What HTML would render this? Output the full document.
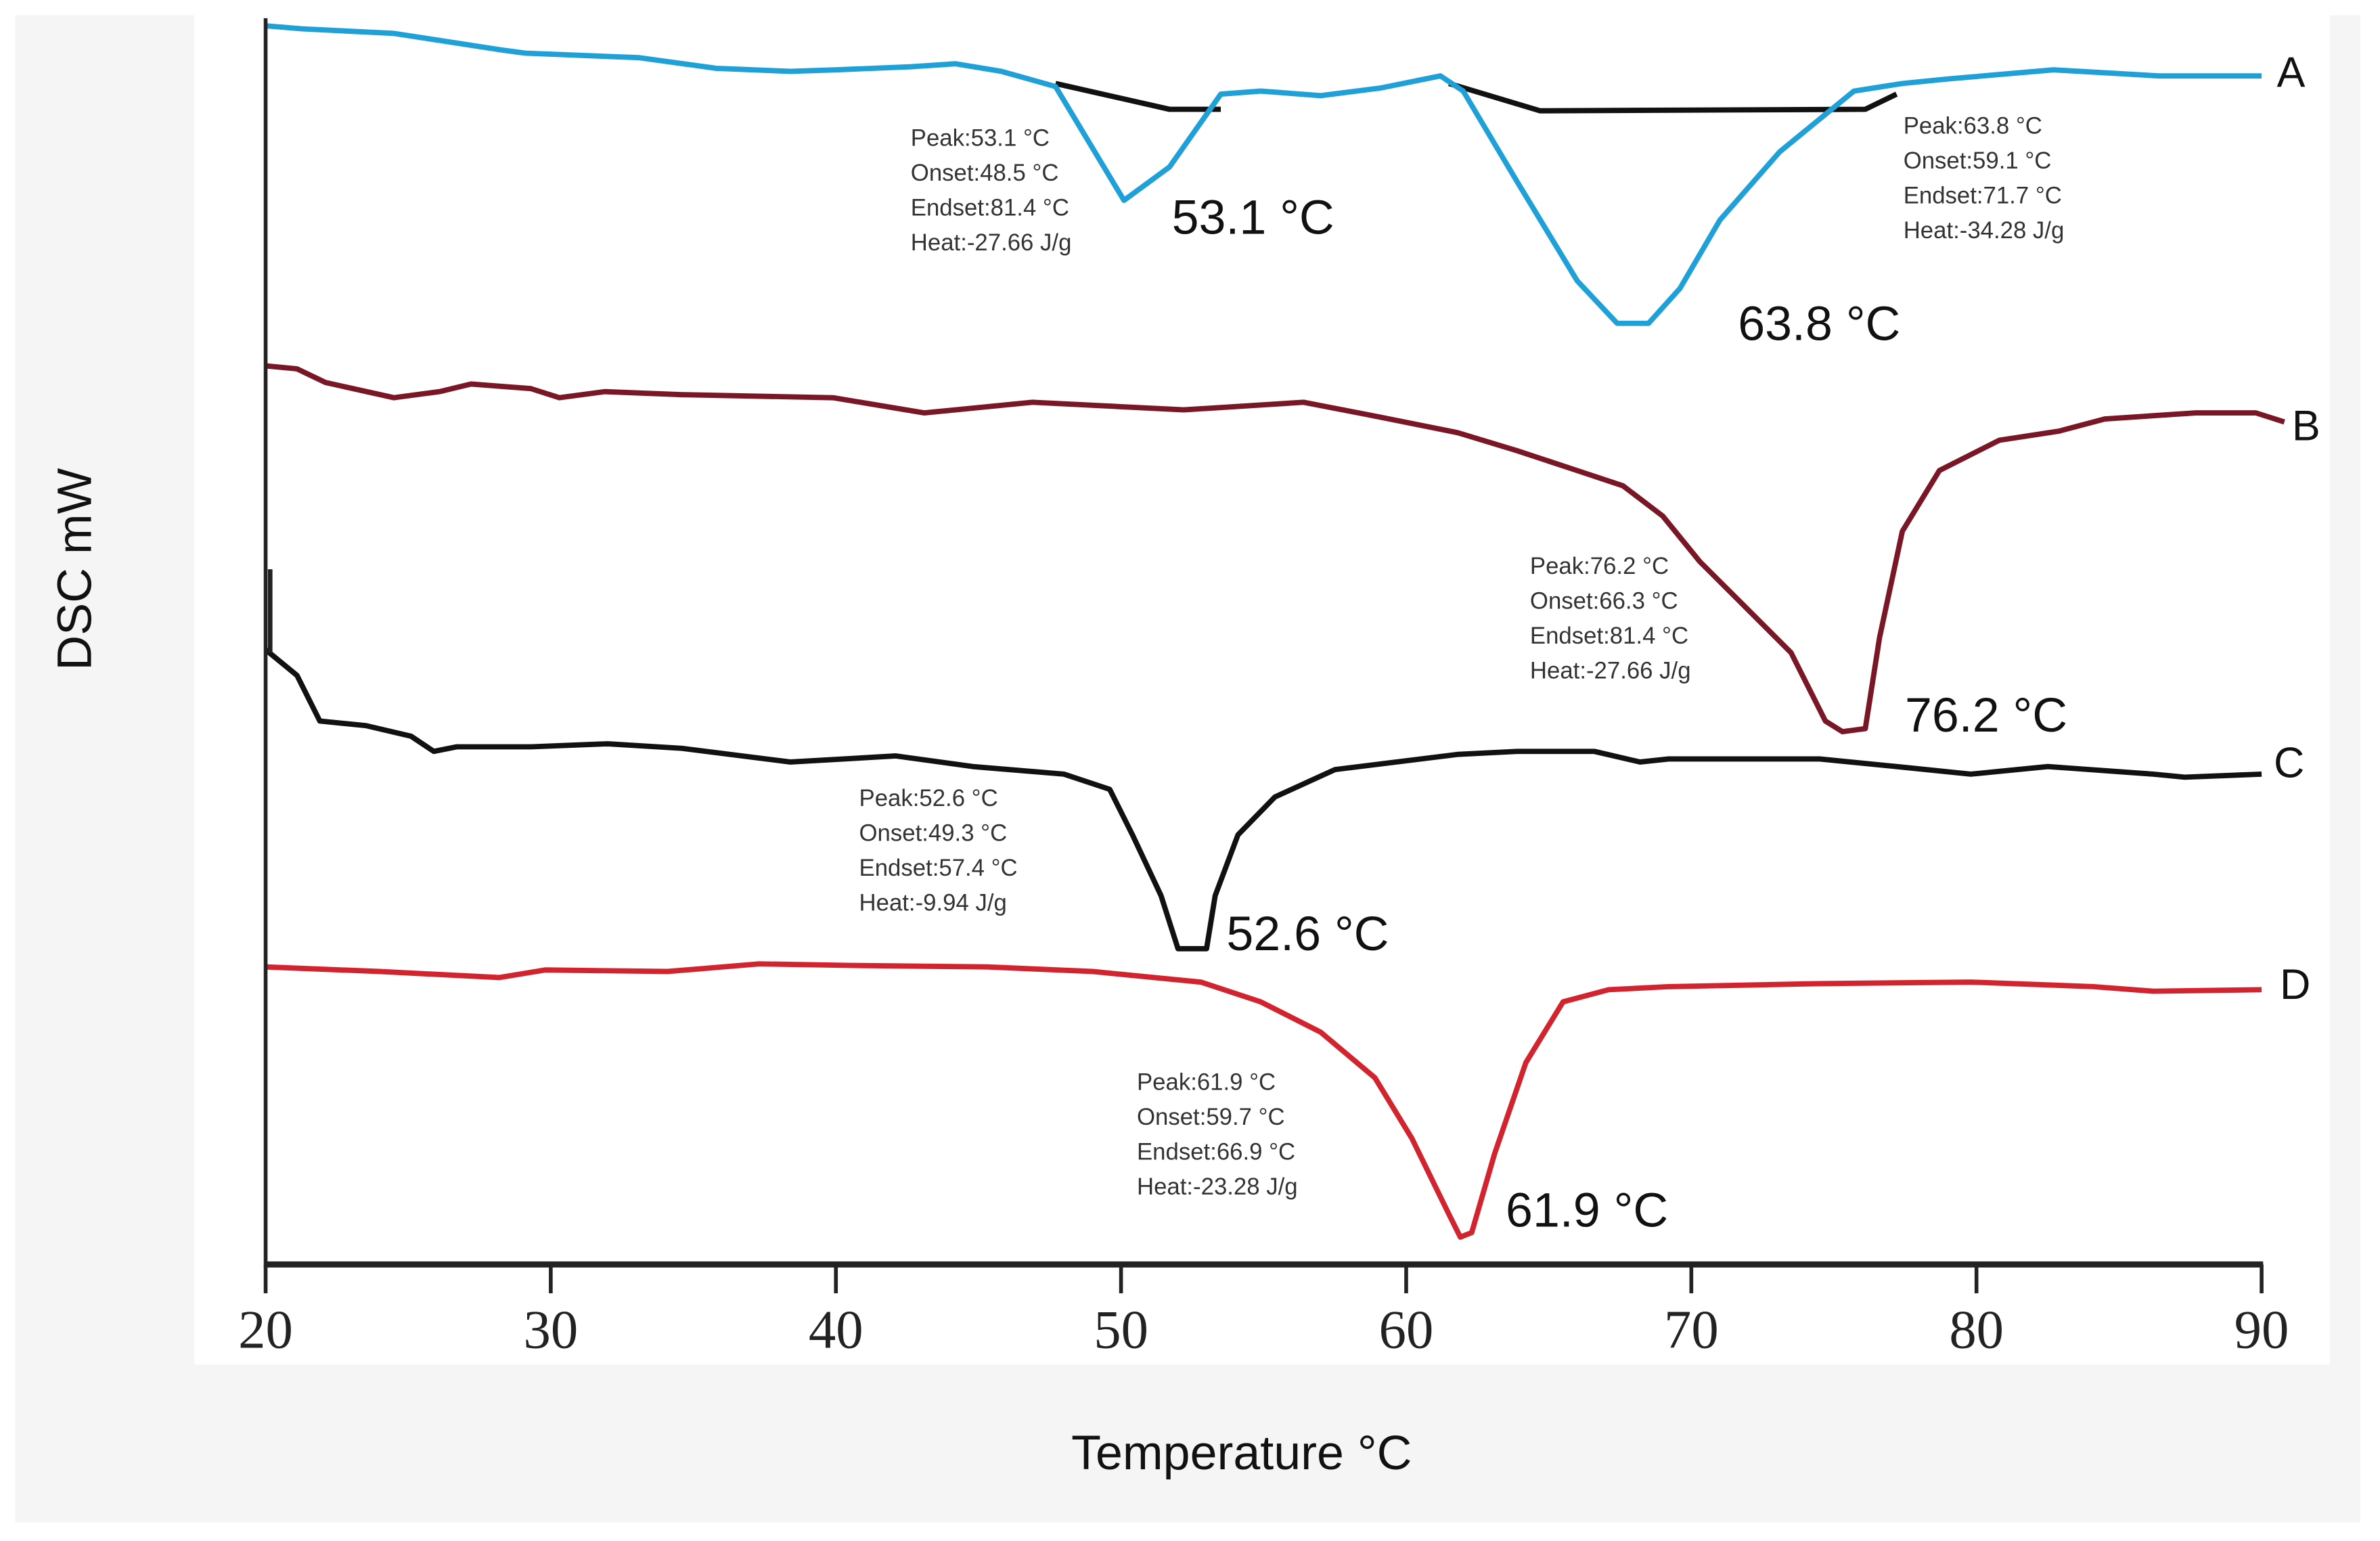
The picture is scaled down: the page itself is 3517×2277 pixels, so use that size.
<!DOCTYPE html>
<html><head><meta charset="utf-8">
<style>
html,body{margin:0;padding:0;background:#fff;width:3517px;height:2277px;overflow:hidden}
svg{display:block}
.ann{font-family:"Liberation Sans",sans-serif;font-size:15.5px;fill:#333}
.big{font-family:"Liberation Sans",sans-serif;font-size:32px;fill:#111}
.lbl{font-family:"Liberation Sans",sans-serif;font-size:28px;fill:#111}
.tick{font-family:"Liberation Serif",serif;font-size:36px;fill:#222}
</style></head>
<body>
<svg id="chart" width="3517" height="2277" viewBox="0 0 1568 1015.2" preserveAspectRatio="none" xmlns="http://www.w3.org/2000/svg">
<rect x="10" y="10" width="1545" height="993" fill="#f5f5f5"/>
<rect x="128" y="0" width="1407" height="899" fill="#fff"/>
<g id="series"></g>
<g id="axes"></g>
<text class="lbl" x="1500" y="57">A</text>
<text class="lbl" x="1510" y="290">B</text>
<text class="lbl" x="1498" y="512">C</text>
<text class="lbl" x="1502" y="658">D</text>
<g class="ann"><text x="600" y="96">Peak:53.1 °C</text><text x="600" y="119">Onset:48.5 °C</text><text x="600" y="142">Endset:81.4 °C</text><text x="600" y="165">Heat:-27.66 J/g</text></g>
<g class="ann"><text x="1254" y="88">Peak:63.8 °C</text><text x="1254" y="111">Onset:59.1 °C</text><text x="1254" y="134">Endset:71.7 °C</text><text x="1254" y="157">Heat:-34.28 J/g</text></g>
<g class="ann"><text x="1008" y="378">Peak:76.2 °C</text><text x="1008" y="401">Onset:66.3 °C</text><text x="1008" y="424">Endset:81.4 °C</text><text x="1008" y="447">Heat:-27.66 J/g</text></g>
<g class="ann"><text x="566" y="531">Peak:52.6 °C</text><text x="566" y="554">Onset:49.3 °C</text><text x="566" y="577">Endset:57.4 °C</text><text x="566" y="600">Heat:-9.94 J/g</text></g>
<g class="ann"><text x="749" y="718">Peak:61.9 °C</text><text x="749" y="741">Onset:59.7 °C</text><text x="749" y="764">Endset:66.9 °C</text><text x="749" y="787">Heat:-23.28 J/g</text></g>
<text class="big" x="772" y="154">53.1 °C</text>
<text class="big" x="1145" y="224">63.8 °C</text>
<text class="big" x="1255" y="482">76.2 °C</text>
<text class="big" x="808" y="626">52.6 °C</text>
<text class="big" x="992" y="808">61.9 °C</text>
<text class="big" x="60" y="375" transform="rotate(-90 60 375)" text-anchor="middle" font-size="30">DSC mW</text>
<text class="big" x="818" y="968" text-anchor="middle">Temperature °C</text>
</svg>
<script>
// temperatures (°C) and signal values (arbitrary DSC units; y = 833 - 10*v)
const tA=[20,21.3,24.5,28.3,29.1,33.1,35.8,38.4,40,42.6,44.2,45.8,47.7,50.1,51.7,53.5,54.9,57,59.1,61.2,62,63.9,66,67.4,68.5,69.6,71,73.1,75.7,77.4,79,82.7,86.4,90];
const vA=[81.6,81.4,81.1,80,79.8,79.5,78.8,78.6,78.7,78.9,79.1,78.6,77.6,70.1,72.3,77.1,77.3,77,77.5,78.3,77.3,71.3,64.8,62,62,64.3,68.8,73.3,77.3,77.8,78.1,78.7,78.3,78.3];
const tAb1=[47.7,51.7,53.5];
const vAb1=[77.8,76.1,76.1];
const tAb2=[61.5,64.7,76.1,77.2];
const vAb2=[77.8,76,76.1,77.1];
const tB=[20,21.1,22.1,24.5,26.1,27.2,29.3,30.3,31.9,34.6,39.9,43.1,46.9,52.2,56.4,58.6,61.8,63.9,66,67.6,69,70.3,71.9,73.5,74.7,75.3,76.1,76.6,77.4,78.7,80.8,82.9,84.5,87.7,89.8,90.8];
const vB=[59.2,59,58.1,57.1,57.5,58,57.7,57.1,57.5,57.3,57.1,56.1,56.8,56.3,56.8,56,54.8,53.6,52.3,51.3,49.3,46.3,43.3,40.3,35.8,35.1,35.3,41.3,48.3,52.3,54.3,54.9,55.7,56.1,56.1,55.5];
const tC=[20,21.1,21.9,23.5,25.1,25.9,26.7,29.3,32,34.6,38.4,42.1,44.8,48,49.6,50.4,51.4,52,53,53.3,54.1,55.4,57.5,61.8,63.9,66.6,68.2,69.2,74.5,77.2,79.8,82.5,86.2,87.3,90];
const vC=[40.5,38.8,35.8,35.5,34.8,33.8,34.1,34.1,34.3,34,33.1,33.5,32.8,32.3,31.3,28.3,24.3,20.8,20.8,24.3,28.3,30.8,32.6,33.6,33.8,33.8,33.1,33.3,33.3,32.8,32.3,32.8,32.3,32.1,32.3];
const tD=[20,24,28.2,29.8,34.1,37.3,40.5,45.3,49,52.8,54.9,57,58.9,60.2,61.5,61.9,62.3,63.1,64.2,65.5,67.1,69.2,74.5,79.8,84.1,86.2,90];
const vD=[19.6,19.3,18.9,19.4,19.3,19.8,19.7,19.6,19.3,18.6,17.3,15.3,12.3,8.3,3.3,1.8,2.1,7.3,13.3,17.3,18.1,18.3,18.5,18.6,18.3,18,18.1];
const xTicks=[20,30,40,50,60,70,80,90];
const tickLabels=["20","30","40","50","60","70","80","90"];

const NS="http://www.w3.org/2000/svg";
function xs(t){return 175+(t-20)*(1315/70);}
function ys(v){return 833-10*v;}
const S=document.getElementById('series'), A=document.getElementById('axes');
function line(ts,vs,color,w,name){
  const p=document.createElementNS(NS,'polyline');
  p.setAttribute('points',ts.map((t,i)=>xs(t).toFixed(1)+','+ys(vs[i]).toFixed(1)).join(' '));
  p.setAttribute('fill','none');p.setAttribute('stroke',color);p.setAttribute('stroke-width',w);
  p.setAttribute('stroke-linejoin','round');
  
  
  S.appendChild(p);
}
line(tAb1,vAb1,'#111',3.5,'baseline-a1');
line(tAb2,vAb2,'#111',3.5,'baseline-a2');
line(tA,vA,'#1fa0d6',3.5,'series-a');
line(tB,vB,'#7a1726',3.5,'series-b');
line(tC,vC,'#111',3.5,'series-c');
line(tD,vD,'#d1242e',3.5,'series-d');
// axes
function seg(x1,y1,x2,y2,w,name){
  const l=document.createElementNS(NS,'line');
  l.setAttribute('x1',x1);l.setAttribute('y1',y1);l.setAttribute('x2',x2);l.setAttribute('y2',y2);
  l.setAttribute('stroke','#222');l.setAttribute('stroke-width',w);
  
  
  A.appendChild(l);
}
seg(175,12,175,835,2.5,'y-axis');
seg(178,375,178,430,3,'series-c-start-spike');
seg(174,833,1491,833,4,'x-axis');
xTicks.forEach((t,i)=>{
  seg(xs(t),833,xs(t),852,2.5,'x-tick');
  const tx=document.createElementNS(NS,'text');
  tx.setAttribute('x',xs(t));tx.setAttribute('y',888);tx.setAttribute('text-anchor','middle');
  tx.setAttribute('class','tick');tx.textContent=tickLabels[i];
  
  
  A.appendChild(tx);
});
</script>
</body></html>
